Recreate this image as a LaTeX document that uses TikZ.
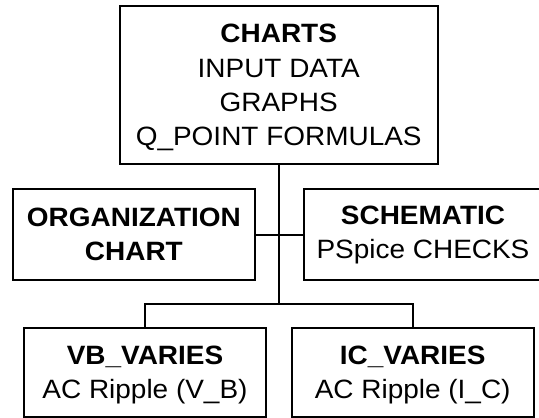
\documentclass[tikz,border=0pt]{standalone}
\usepackage{fontspec}
\setmainfont[FakeStretch=1.055]{Liberation Sans}
\usetikzlibrary{positioning}

\tikzset{
    chartbox/.style={draw, line width=2pt, align=center, inner sep=0pt,
        text depth=0pt, font=\fontsize{26.5}{34.4}\selectfont},
    link/.style={line width=2pt}
}

\begin{document}
\begin{tikzpicture}[x=1pt, y=-1pt]
    % Page frame (pixel units)
    \useasboundingbox (0,0) rectangle (539,418);

    % Top box
    \node[chartbox, minimum width=318pt, minimum height=158pt] (charts) at (278.7,85)
        {\textbf{CHARTS}\\INPUT DATA\\GRAPHS\\Q\_POINT FORMULAS};

    % Middle row
    \node[chartbox, minimum width=242pt, minimum height=91pt] (org) at (133.9,234.5)
        {\textbf{ORGANIZATION}\\\textbf{CHART}};
    % Schematic box runs past the right edge
    \node[chartbox, minimum width=262pt, minimum height=91pt, anchor=west] (sch) at (302.7,234.5) {};
    \node[chartbox, draw=none] (schtext) at (423,232.5)
        {\textbf{SCHEMATIC}\\PSpice CHECKS};

    % Bottom row
    \node[chartbox, minimum width=242pt, minimum height=89pt] (vb) at (145,372)
        {\textbf{VB\_VARIES}\\AC Ripple (V\_B)};
    \node[chartbox, minimum width=242pt, minimum height=89pt] (ic) at (412.7,372)
        {\textbf{IC\_VARIES}\\AC Ripple (I\_C)};

    % Connectors
    \draw[link] (charts.south) -- ++(0,139) coordinate (bus);
    \draw[link] (org.east) -- (sch.west);
    \draw[link] (vb.north) |- (bus) -| (ic.north);
\end{tikzpicture}
\end{document}
